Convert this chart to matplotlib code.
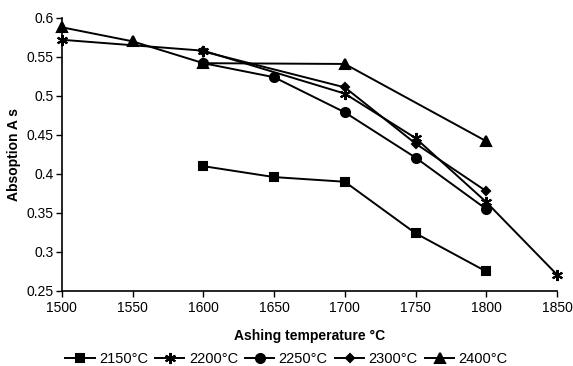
import matplotlib.pyplot as plt

plt.rcParams['font.family'] = ['Liberation Sans', 'DejaVu Sans']

# datos
x_2150 = [1600, 1650, 1700, 1750, 1800]
y_2150 = [0.410, 0.396, 0.390, 0.324, 0.275]

x_2200 = [1500, 1600, 1700, 1750, 1800, 1850]
y_2200 = [0.572, 0.558, 0.503, 0.446, 0.364, 0.271]

x_2250 = [1600, 1650, 1700, 1750, 1800]
y_2250 = [0.542, 0.524, 0.479, 0.421, 0.355]

x_2300 = [1600, 1700, 1750, 1800]
y_2300 = [0.557, 0.511, 0.439, 0.378]

x_2400 = [1500, 1550, 1600, 1700, 1800]
y_2400 = [0.588, 0.570, 0.542, 0.541, 0.442]

series = [
    (x_2150, y_2150, 's', 6, '2150°C'),
    (x_2200, y_2200, (6, 2, 0), 8, '2200°C'),
    (x_2250, y_2250, 'o', 6.5, '2250°C'),
    (x_2300, y_2300, 'D', 4.5, '2300°C'),
    (x_2400, y_2400, '^', 6.5, '2400°C'),
]

fig = plt.figure(figsize=(5.73, 3.66), dpi=100)
ax = fig.add_axes([0.108, 0.205, 0.864, 0.746])

for xs, ys, m, ms, lab in series:
    ax.plot(xs, ys, color='black', marker=m, markersize=ms, linewidth=1.4,
            markeredgewidth=1.5, label=lab, clip_on=False)

ax.set_xlim(1500, 1850)
ax.set_ylim(0.25, 0.6)
ax.set_xticks([1500, 1550, 1600, 1650, 1700, 1750, 1800, 1850])
ax.set_yticks([0.25, 0.3, 0.35, 0.4, 0.45, 0.5, 0.55, 0.6])
ax.set_yticklabels(['0.25', '0.3', '0.35', '0.4', '0.45', '0.5', '0.55', '0.6'])
ax.tick_params(direction='out', length=4, width=1, labelsize=10, colors='black')
ax.tick_params(axis='y', pad=2)
ax.spines['top'].set_visible(False)
ax.spines['right'].set_visible(False)
ax.spines['left'].set_linewidth(1.2)
ax.spines['bottom'].set_linewidth(1.2)

ax.set_xlabel('Ashing temperature °C', fontsize=10, fontweight='bold', labelpad=10)
ax.set_ylabel('Absoption A s', fontsize=10, fontweight='bold', labelpad=4)

fig.legend(loc='lower center', ncol=5, frameon=False, fontsize=10.5,
           bbox_to_anchor=(0.5, -0.035), handlelength=2.0, handletextpad=0.3,
           columnspacing=0.5)

plt.savefig('out.png', dpi=100)
